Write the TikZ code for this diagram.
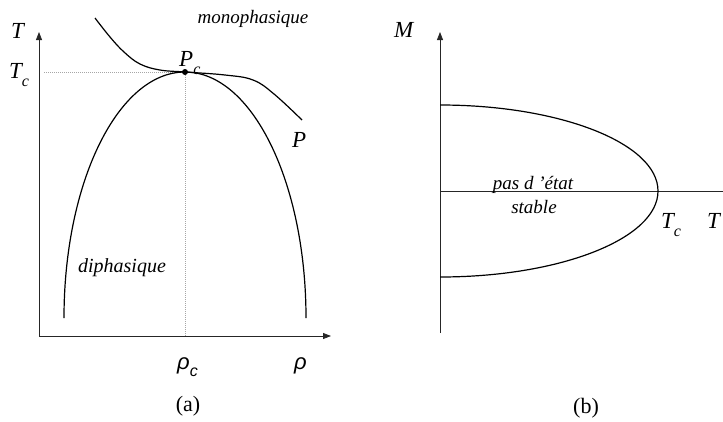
\documentclass[tikz,border=0pt]{standalone}
\usepackage{fontspec}
\setmainfont{Liberation Serif}
\newfontfamily\rhofont{Liberation Sans}
\usetikzlibrary{arrows.meta}
\newcommand\subc{\raisebox{-0.35em}{\fontsize{16}{18}\selectfont c}}
\begin{document}
\begin{tikzpicture}[x=1pt,y=-1pt,
 lab/.style={inner sep=0pt, font=\fontsize{23}{26}\selectfont\itshape},
 word/.style={inner sep=0pt, font=\fontsize{19}{22}\selectfont\itshape},
 rholab/.style={inner sep=0pt, font=\fontsize{22}{25}\selectfont\rhofont\itshape},
 capt/.style={inner sep=0pt, font=\fontsize{22}{25}\selectfont},
 axis/.style={line width=0.8pt, black!85},
 arr/.style={axis, -{Triangle[length=8pt,width=6pt]}},
 curve/.style={line width=1.2pt, black},
 guide/.style={line width=0.6pt, gray!70, dash pattern=on 1pt off 1pt}]
\useasboundingbox (0,0) rectangle (723,421);
% ---------- panel (a)
\coordinate (oa) at (39,336);
\coordinate (ytip) at (39,32);
\coordinate (xtip) at (331,336);
\coordinate (tcl) at (44,72);
\coordinate (rhocax) at (185,336);
\coordinate (cl) at (64,318);
\draw[arr] (oa) -- (ytip);
\draw[arr] (oa) -- (xtip);
\node[circle, fill=black, inner sep=0pt, minimum size=6pt] (pc) at (185,72) {};
\draw[guide] (tcl) -- (pc);
\draw[guide] (pc) -- (rhocax);
% coexistence curve (half ellipse)
\draw[curve] (cl) arc[start angle=180, end angle=0, x radius=121pt, y radius=246pt];
% isobar P
\draw[curve] plot[smooth, tension=0.65] coordinates {(95,18) (110,37) (124,52) (140,64) (160,70) (185,72) (225,75) (253,80) (274,94) (302,120)};
\node[lab, anchor=base west] (T) at (11,38) {T};
\node[lab, anchor=base west] (Tc) at (9,78) {T\subc};
\node[lab, anchor=base west] (Pc) at (179,66) {P\subc};
\node[lab, anchor=base west] (P) at (292,147) {P};
\node[word] (mono) at (253,19) {monophasique};
\node[word, font=\fontsize{20}{22}\selectfont\itshape] (di) at (122,268) {diphasique};
\node[rholab, anchor=base west] (rhoc) at (177,369) {ρ\subc};
\node[rholab, anchor=base west] (rho) at (294,369) {ρ};
\node[capt] (capa) at (188,406) {(a)};
% ---------- panel (b)
\coordinate (mb) at (440,333);
\coordinate (mtip) at (440,32);
\coordinate (h0) at (440,191);
\coordinate (h1) at (723,191);
\coordinate (mtop) at (440,105);
\draw[arr] (mb) -- (mtip);
\draw[axis] (h0) -- (h1);
\draw[curve] (mtop) arc[start angle=90, end angle=-90, x radius=218pt, y radius=86pt];
\node[lab, anchor=base west] (M) at (394,37) {M};
\node[word, anchor=base] (pas) at (533,189) {pas d ’état};
\node[word, anchor=base] (stab) at (534,213) {stable};
\node[lab, anchor=base west] (Tcb) at (661,228) {T\subc};
\node[lab, anchor=base west] (Tb) at (707,228) {T};
\node[capt] (capb) at (586,408) {(b)};
\end{tikzpicture}
\end{document}
